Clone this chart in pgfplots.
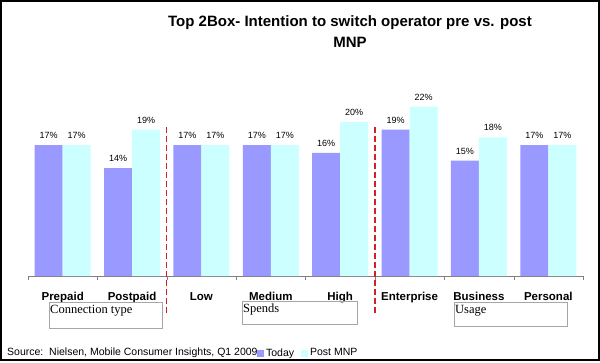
\documentclass[border=0pt]{standalone}
\usepackage{pgfplots}
\pgfplotsset{compat=1.18}
\usepackage{fontspec}
\setmainfont{Liberation Sans}
\newfontfamily\seriffont{Liberation Serif}
\definecolor{today}{HTML}{9999FF}
\definecolor{post}{HTML}{CCFFFF}
\definecolor{sep}{HTML}{D0202A}
\begin{document}
\begin{tikzpicture}[x=1pt,y=1pt]
\path[use as bounding box] (0,0) rectangle (600,362);
\begin{axis}[
  at={(28pt,86pt)}, anchor=south west,
  scale only axis, width=555pt, height=177.1pt,
  xmin=-0.5, xmax=7.5, ymin=0, ymax=23,
  axis y line=none, axis x line=bottom,
  x axis line style={-, draw=gray},
  xtick={0,...,7},
  xticklabels={Prepaid,Postpaid,Low,Medium,High,Enterprise,Business,Personal},
  major x tick style={draw=none},
  minor xtick={-0.5,0.5,...,7.5},
  minor x tick style={draw=gray},
  minor tick length=4pt, major tick length=0pt,
  tick align=outside,
  xticklabel style={font=\bfseries\fontsize{11.5}{12}\selectfont, anchor=base, yshift=-24pt},
  clip=false,
  legend style={at={(0.407,-0.435)}, anchor=west, draw=none, fill=none,
    legend columns=2, font=\fontsize{10.5}{11}\selectfont,
    /tikz/every even column/.append style={column sep=5pt}},
  legend image code/.code={\fill[#1] (0pt,-3.5pt) rectangle (7pt,3.5pt);},
]
\addplot[ybar, bar width=28pt, bar shift=-14pt, fill=today, draw=none,
  nodes near coords={\pgfmathprintnumber[assume math mode=true]{\pgfplotspointmeta}\%},
  nodes near coords style={font=\fontsize{9}{9}\selectfont, anchor=base, yshift=6.5pt, xshift=-14pt}]
  coordinates {(0,17)(1,14)(2,17)(3,17)(4,16)(5,19)(6,15)(7,17)};
\addplot[ybar, bar width=28pt, bar shift=14pt, fill=post, draw=none,
  nodes near coords={\pgfmathprintnumber[assume math mode=true]{\pgfplotspointmeta}\%},
  nodes near coords style={font=\fontsize{9}{9}\selectfont, anchor=base, yshift=6.5pt, xshift=14pt}]
  coordinates {(0,17)(1,19)(2,17)(3,17)(4,20)(5,22)(6,18)(7,17)};
\legend{Today, Post MNP}
\addplot[sep, line width=1.3pt, dash pattern=on 6pt off 3pt, forget plot] coordinates {(1.5,-4.8) (1.5,19.6)};
\addplot[sep, line width=1.3pt, dash pattern=on 6pt off 3pt, forget plot] coordinates {(4.5,-4.8) (4.5,19.6)};
\end{axis}
\node[font=\bfseries\fontsize{15}{21}\selectfont, align=center] at (350,330.5) {Top 2Box- Intention to switch operator pre vs. post\\MNP};
\node[anchor=base west, inner sep=0pt, font=\fontsize{10.5}{12}\selectfont] at (7,7) {Source:\ \ Nielsen, Mobile Consumer Insights, Q1 2009};
\draw[gray!70] (49,60) rectangle (162,34);
\node[anchor=north west, inner sep=0pt, font=\seriffont\fontsize{12.5}{13}\selectfont] at (50,57) {Connection type};
\draw[gray!70] (242,61) rectangle (357,38);
\node[anchor=north west, inner sep=0pt, font=\seriffont\fontsize{12.5}{13}\selectfont] at (243,58) {Spends};
\draw[gray!70] (454,60) rectangle (567,36);
\node[anchor=north west, inner sep=0pt, font=\seriffont\fontsize{12.5}{13}\selectfont] at (455,57) {Usage};
\draw[line width=1.5pt] (1,2) rectangle (599,361);
\end{tikzpicture}
\end{document}
